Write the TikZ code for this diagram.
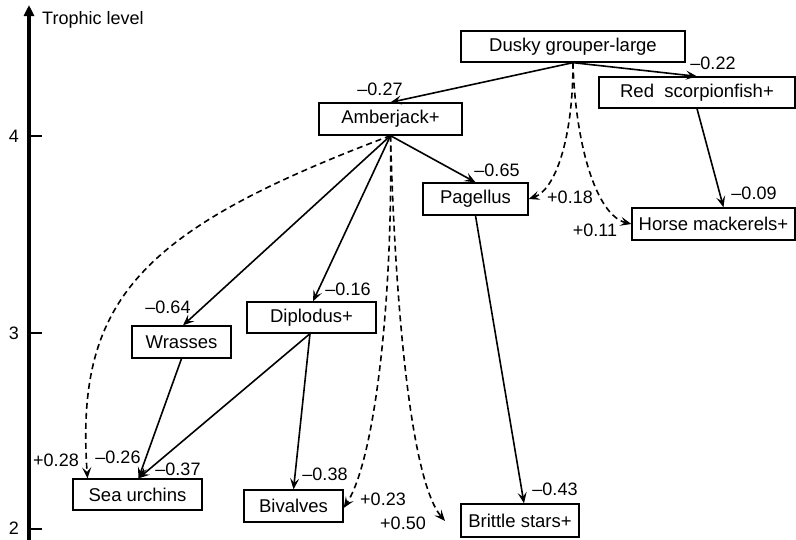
\documentclass[tikz,border=0pt]{standalone}
\usepackage{fontspec}
\setmainfont{Liberation Sans}
\usetikzlibrary{arrows.meta}
\begin{document}
\begin{tikzpicture}[x=1pt,y=-1pt,
  box/.style={draw, line width=1.3pt, inner sep=0pt, font=\fontsize{18.5}{20}\selectfont},
  lab/.style={inner sep=0pt, font=\fontsize{18}{20}\selectfont},
  eff/.style={line width=1.6pt, -{Stealth[length=11pt,width=9pt,inset=4.5pt]}},
  ind/.style={eff, dash pattern=on 6pt off 4pt}]
\useasboundingbox (0,0) rectangle (796,539);
% axis
\coordinate (axb) at (29,540);
\coordinate (axt) at (29,5);
\draw[line width=3.2pt, -{Triangle[length=11pt,width=10pt]}] (axb) -- (axt);
\draw[line width=2pt] (29,136) -- (42,136);
\draw[line width=2pt] (29,333) -- (42,333);
\draw[line width=2pt] (29,529) -- (42,529);
\node[lab] (t4) at (14,136) {4};
\node[lab] (t3) at (14,333) {3};
\node[lab] (t2) at (14,528.5) {2};
\node[lab, anchor=west] (tl) at (42,20) {Trophic level};
% boxes
\node[box, minimum width=224pt, minimum height=31pt] (dusky) at (573,46.5) {Dusky grouper-large\hspace{20pt}};
\node[box, minimum width=196pt, minimum height=31pt] (red) at (697,92.5) {Red\ \ scorpionfish+};
\node[box, minimum width=143pt, minimum height=32pt] (amber) at (390.5,119) {Amberjack+};
\node[box, minimum width=105pt, minimum height=32pt] (pag) at (475.5,199) {Pagellus};
\node[box, minimum width=163pt, minimum height=32pt] (horse) at (713.5,224) {Horse mackerels+};
\node[box, minimum width=99pt, minimum height=32pt] (wra) at (181.5,342) {Wrasses};
\node[box, minimum width=129pt, minimum height=31pt] (dip) at (311.5,317.5) {Diplodus+};
\node[box, minimum width=129pt, minimum height=31pt] (sea) at (137.5,494.5) {Sea urchins};
\node[box, minimum width=99pt, minimum height=32pt] (biv) at (293.5,506) {Bivalves};
\node[box, minimum width=118pt, minimum height=33pt] (bri) at (520,520.5) {Brittle stars+};
\coordinate (briend) at (445,521);
% direct effects
\draw[eff] (dusky.south) -- (amber.north);
\draw[eff] (dusky.south) -- (red.north);
\draw[eff] (amber.south) -- (pag.north);
\draw[eff] (amber.south) -- ([xshift=1.5pt]wra.north);
\draw[eff] (amber.south) -- ([xshift=1.5pt]dip.north);
\draw[eff] (red.south) -- ([xshift=10pt]horse.north);
\draw[eff] (pag.south) -- ([xshift=4pt]bri.north);
\draw[eff] (wra.south) -- ([xshift=1pt]sea.north);
\draw[eff] ([xshift=-1.5pt]dip.south) -- ([xshift=1pt]sea.north);
\draw[eff] ([xshift=-1.5pt]dip.south) -- (biv.north);
% indirect effects
\draw[ind] (dusky.south) .. controls (573,140) and (555,190) .. (pag.east);
\draw[ind] (dusky.south) .. controls (575,140) and (595,215) .. (horse.west);
\draw[ind] (amber.south) .. controls (140,230) and (75,300) .. ([xshift=-50pt]sea.north);
\draw[ind] (amber.south) .. controls (393,300) and (375,460) .. ([yshift=-2pt]biv.east);
\draw[ind] (amber.south) .. controls (395,300) and (410,480) .. (briend);
% labels
\node[lab] (l1) at (380,89) {–0.27};
\node[lab] (l2) at (713,63) {–0.22};
\node[lab] (l3) at (497,170) {–0.65};
\node[lab] (l4) at (570,197) {+0.18};
\node[lab] (l5) at (754,193) {–0.09};
\node[lab] (l6) at (595,230) {+0.11};
\node[lab] (l7) at (168,307) {–0.64};
\node[lab] (l8) at (348,289) {–0.16};
\node[lab] (l9) at (56,460) {+0.28};
\node[lab] (l10) at (118,457) {–0.26};
\node[lab] (l11) at (178,469) {–0.37};
\node[lab] (l12) at (325,474) {–0.38};
\node[lab] (l13) at (383,499) {+0.23};
\node[lab] (l14) at (403,523) {+0.50};
\node[lab] (l15) at (555,489) {–0.43};
\end{tikzpicture}
\end{document}
